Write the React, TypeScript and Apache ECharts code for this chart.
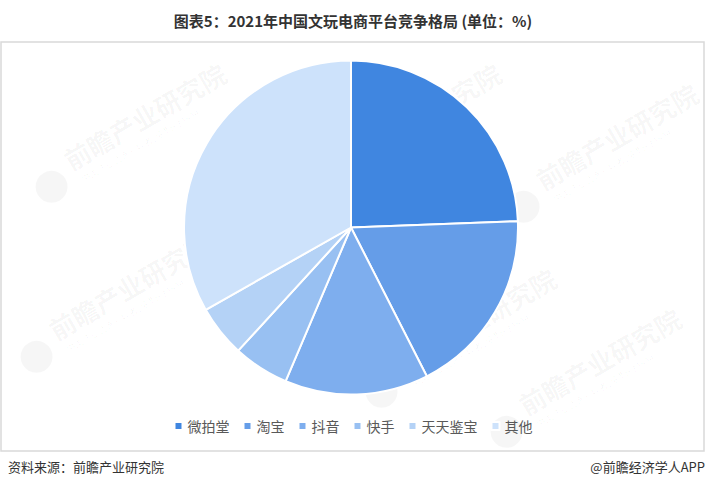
import React, { useEffect, useRef } from "react";
import * as echarts from "echarts";

const categories = ["微拍堂", "淘宝", "抖音", "快手", "天天鉴宝", "其他"];
const values = [24.4, 18.1, 13.9, 5.4, 5.0, 33.2];
const colors = ["#4086e0", "#659de8", "#7eaeee", "#98c0f2", "#b4d2f6", "#cde2fb"];
const titleText = "图表5：2021年中国文玩电商平台竞争格局 (单位：%)";
const sourceText = "资料来源：前瞻产业研究院";
const creditText = "@前瞻经济学人APP";
const watermarkText = "前瞻产业研究院";
const watermarkSub = "中国产业咨询领导者(股票:839599)";
const watermarkSpots = [
  [140, 130],
  [125, 300],
  [415, 130],
  [470, 335],
  [612, 150],
  [595, 375],
];

export default function App() {
  const ref = useRef<HTMLDivElement>(null);
  useEffect(() => {
    if (!ref.current) return;
    const chart = echarts.init(ref.current, undefined, { renderer: "svg" });
    const font = '"Noto Sans CJK SC", "Noto Sans", sans-serif';
    const wm: any[] = [];
    watermarkSpots.forEach(([x, y]) => {
      wm.push({
        type: "group",
        x,
        y,
        rotation: Math.PI / 6,
        z: 100,
        silent: true,
        children: [
          {
            type: "circle",
            shape: { cx: -105, cy: 5, r: 16 },
            style: { fill: "rgba(0,0,0,0.035)" },
          },
          {
            type: "text",
            x: -80,
            y: -10,
            style: {
              text: watermarkText,
              font: `bold 26px ${font}`,
              fill: "rgba(0,0,0,0.04)",
              textVerticalAlign: "middle",
            },
          },
          {
            type: "text",
            x: -75,
            y: 14,
            style: {
              text: watermarkSub,
              font: `9px ${font}`,
              fill: "rgba(0,0,0,0.04)",
              textVerticalAlign: "middle",
            },
          },
        ],
      });
    });
    chart.setOption({
      animation: false,
      backgroundColor: "#ffffff",
      color: colors,
      title: {
        text: titleText,
        left: "center",
        top: 8,
        textStyle: {
          fontFamily: font,
          fontSize: 15,
          fontWeight: "bold",
          color: "#333333",
        },
      },
      legend: {
        bottom: 53,
        left: "center",
        icon: "rect",
        itemWidth: 8,
        itemHeight: 8,
        itemGap: 13,
        textStyle: { fontFamily: font, fontSize: 14, color: "#595959" },
        data: categories,
      },
      graphic: [
        {
          type: "rect",
          shape: { x: 1, y: 42, width: 703, height: 409 },
          style: { fill: "none", stroke: "#d9d9d9", lineWidth: 1.5 },
          z: 0,
        },
        {
          type: "text",
          left: 8,
          top: 460,
          style: { text: sourceText, font: `13px ${font}`, fill: "#333333" },
        },
        {
          type: "text",
          right: 1,
          top: 460,
          style: { text: creditText, font: `13px ${font}`, fill: "#333333" },
        },
        ...wm,
      ],
      series: [
        {
          type: "pie",
          center: [351, 227.5],
          radius: [0, 167],
          startAngle: 90,
          clockwise: true,
          label: { show: false },
          labelLine: { show: false },
          itemStyle: { borderColor: "#ffffff", borderWidth: 2 },
          emphasis: { disabled: true },
          data: categories.map((name, i) => ({ name, value: values[i] })),
        },
      ],
    });
    return () => chart.dispose();
  }, []);
  return (
    <div
      ref={ref}
      style={{ position: "fixed", left: 0, top: 0, width: 706, height: 491 }}
    />
  );
}
